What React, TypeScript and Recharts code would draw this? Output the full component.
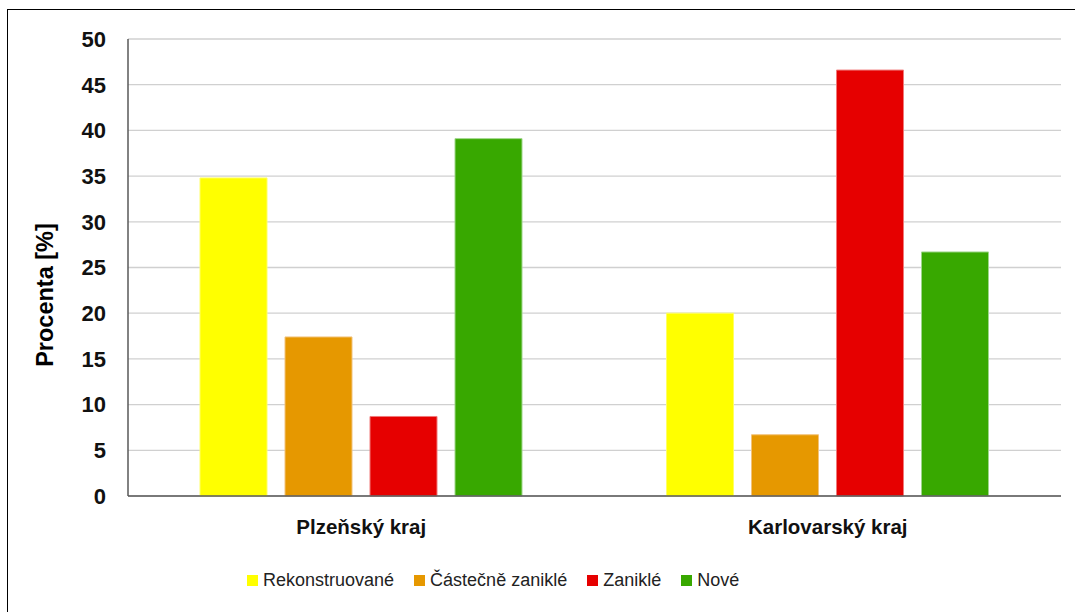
import React from "react"
import {
  BarChart,
  Bar,
  XAxis,
  YAxis,
  CartesianGrid,
} from "recharts"

const regions = ["Plzeňský kraj", "Karlovarský kraj"]
const rekonstruovane = [34.8, 20.0]
const castecneZanikle = [17.4, 6.7]
const zanikle = [8.7, 46.6]
const nove = [39.1, 26.7]
const yTicks = [0, 5, 10, 15, 20, 25, 30, 35, 40, 45, 50]

const series = [
  { key: "rek", name: "Rekonstruované", color: "#FFFF00", stroke: "#ffff66" },
  { key: "cas", name: "Částečně zaniklé", color: "#E69800", stroke: "#f2c27a" },
  { key: "zan", name: "Zaniklé", color: "#E60000", stroke: "#f07a7a" },
  { key: "nov", name: "Nové", color: "#38A800", stroke: "#9ed68a" },
]

const data = regions.map((region, i) => ({
  region,
  rek: rekonstruovane[i],
  cas: castecneZanikle[i],
  zan: zanikle[i],
  nov: nove[i],
}))

const font = "'Liberation Sans', Arial, sans-serif"

function YLabel() {
  return (
    <text
      x={45}
      y={295}
      transform="rotate(-90, 45, 295)"
      textAnchor="middle"
      dominantBaseline="central"
      fontFamily={font}
      fontWeight="bold"
      fontSize={23.5}
      fill="#000"
    >
      Procenta [%]
    </text>
  )
}

// legend drawn as plain html under the chart so it does not eat plot height
function LegendBox() {
  return (
    <div
      style={{
        position: "absolute",
        top: 570,
        left: 0,
        width: 1075,
        display: "flex",
        alignItems: "center",
        paddingLeft: 247,
        fontFamily: font,
        fontSize: 18,
        color: "#222",
      }}
    >
      {series.map((s) => (
        <div
          key={s.key}
          style={{ display: "flex", alignItems: "center", marginRight: 20 }}
        >
          <span
            style={{
              display: "inline-block",
              width: 11,
              height: 11,
              background: s.color,
              marginRight: 5,
            }}
          />
          <span>{s.name}</span>
        </div>
      ))}
    </div>
  )
}

export default function App() {
  return (
    <div
      style={{
        position: "fixed",
        left: 0,
        top: 0,
        width: 1075,
        height: 612,
        overflow: "hidden",
        background: "#fff",
      }}
    >
      <div
        style={{
          position: "absolute",
          left: 7,
          top: 9,
          width: 1100,
          height: 700,
          border: "1.5px solid #000",
        }}
      />
      <div style={{ position: "absolute", left: 0, top: 0 }}>
        <BarChart
          width={1075}
          height={612}
          data={data}
          margin={{ top: 39, right: 14, bottom: 0, left: 0 }}
          barGap={18}
        >
          <CartesianGrid
            vertical={false}
            stroke="#d0d0d0"
            strokeWidth={1.3}
          />
          <XAxis
            dataKey="region"
            height={116}
            axisLine={{ stroke: "#595959", strokeWidth: 1.5 }}
            tickLine={false}
            tickSize={0}
            tickMargin={23}
            tick={{
              fontFamily: font,
              fontWeight: "bold",
              fontSize: 20.5,
              fill: "#111",
            }}
          />
          <YAxis
            width={128}
            domain={[0, 50]}
            ticks={yTicks}
            interval={0}
            axisLine={{ stroke: "#595959", strokeWidth: 1.5 }}
            tickLine={false}
            tickSize={0}
            tickMargin={22}
            tick={{
              fontFamily: font,
              fontWeight: "bold",
              fontSize: 22,
              fill: "#111",
            }}
            label={<YLabel />}
          />
          {series.map((s) => (
            <Bar
              key={s.key}
              dataKey={s.key}
              name={s.name}
              fill={s.color}
              stroke={s.stroke}
              strokeWidth={1}
              barSize={67}
              isAnimationActive={false}
            />
          ))}
        </BarChart>
      </div>
      <LegendBox />
    </div>
  )
}
